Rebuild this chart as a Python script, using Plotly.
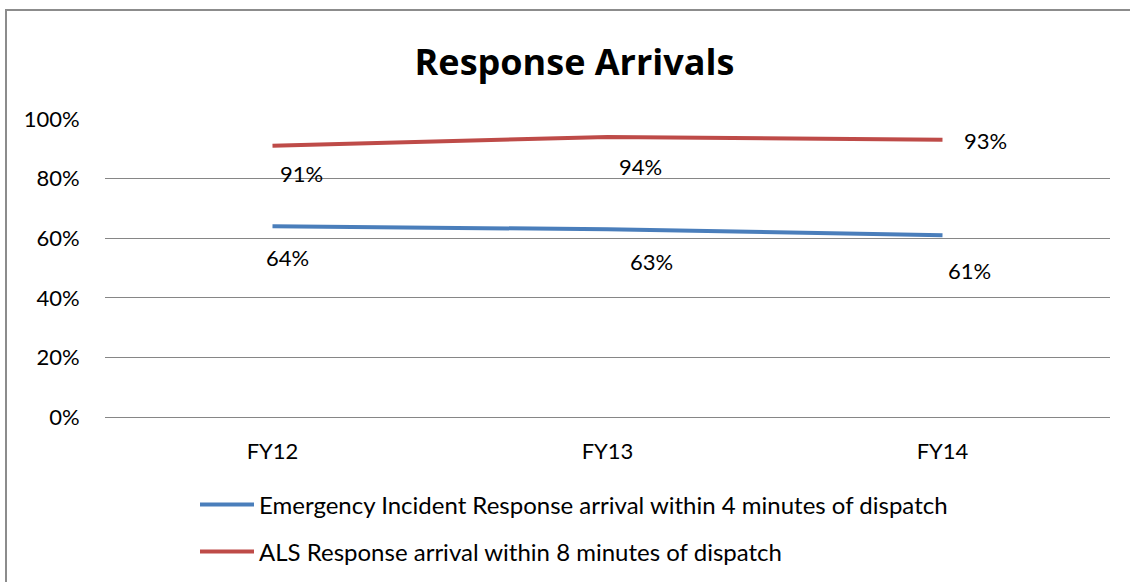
import plotly.graph_objects as go

categories = ["FY12", "FY13", "FY14"]
emergency_4min = [0.64, 0.63, 0.61]
als_8min = [0.91, 0.94, 0.93]
series_names = [
    "Emergency Incident Response arrival within 4 minutes of dispatch",
    "ALS Response arrival within 8 minutes of dispatch",
]
y_ticks = [0, 0.2, 0.4, 0.6, 0.8, 1.0]
y_tick_labels = ["0%", "20%", "40%", "60%", "80%", "100%"]

# label offsets (px) as placed in the reference
emergency_offsets = [(15, -31), (44, -32), (27, -35)]
als_offsets = [(29, -28), (33, -30), (43, -1)]

W, H = 1130, 582
L, R, T, B = 105, 20, 119, 165
FONT = "Lato"
BLUE = "#4A7EBB"
RED = "#BE4B48"
GRID = "#868686"

fig = go.Figure()
fig.add_trace(go.Scatter(x=categories, y=emergency_4min, mode="lines", name=series_names[0],
                         line=dict(color=BLUE, width=4), legend="legend", showlegend=True))
fig.add_trace(go.Scatter(x=categories, y=als_8min, mode="lines", name=series_names[1],
                         line=dict(color=RED, width=4), legend="legend2", showlegend=True))

annotations = []
for vals, offs in ((emergency_4min, emergency_offsets), (als_8min, als_offsets)):
    for c, v, (dx, dy) in zip(categories, vals, offs):
        annotations.append(dict(x=c, y=v, xref="x", yref="y", text=f"{round(v*100)}%",
                                showarrow=False, xshift=dx, yshift=dy,
                                font=dict(family=FONT, size=22, color="#000000")))

pw = W - L - R
ph = H - T - B
def px_x(p):
    return (p - L) / pw
def px_y(p):
    return (H - B - p) / ph

legend_common = dict(xref="container", yref="container", xanchor="left", yanchor="middle",
                     bgcolor="rgba(0,0,0,0)", itemwidth=54,
                     font=dict(family=FONT, size=24, color="#000000"))

fig.update_layout(
    width=W, height=H,
    showlegend=True,
    margin=dict(l=L, r=R, t=T, b=B, autoexpand=False),
    paper_bgcolor="white", plot_bgcolor="white",
    font=dict(family=FONT, size=22, color="#000000"),
    title=dict(text="<b>Response Arrivals</b>", x=574.5 / W, xanchor="center",
               y=1 - 62 / H, yanchor="middle", yref="container",
               font=dict(family="Open Sans", size=36, color="#000000")),
    xaxis=dict(type="category", range=[-0.5, 2.5], showgrid=False, zeroline=False,
               showline=True, linecolor=GRID, linewidth=1,
               ticks="outside", ticklen=15, tickcolor="rgba(0,0,0,0)",
               tickfont=dict(family=FONT, size=22, color="#000000")),
    yaxis=dict(range=[0, 1], tickvals=y_ticks, ticktext=y_tick_labels,
               showgrid=True, gridcolor=GRID, gridwidth=1, zeroline=False,
               showline=False, ticks="outside", ticklen=20, tickcolor="rgba(0,0,0,0)",
               tickfont=dict(family=FONT, size=22, color="#000000")),
    legend=dict(x=195 / W, y=1 - 505 / H, **legend_common),
    legend2=dict(x=195 / W, y=1 - 552 / H, **legend_common),
    annotations=annotations,
    shapes=[dict(type="rect", xref="paper", yref="paper",
                 x0=px_x(6), x1=px_x(1160), y0=px_y(10), y1=px_y(620),
                 line=dict(color="#8C8C8C", width=2), fillcolor="rgba(0,0,0,0)", layer="below")],
)

fig.write_html("out.html", config={"displayModeBar": False},
               post_script="document.body.style.margin='0px';")
